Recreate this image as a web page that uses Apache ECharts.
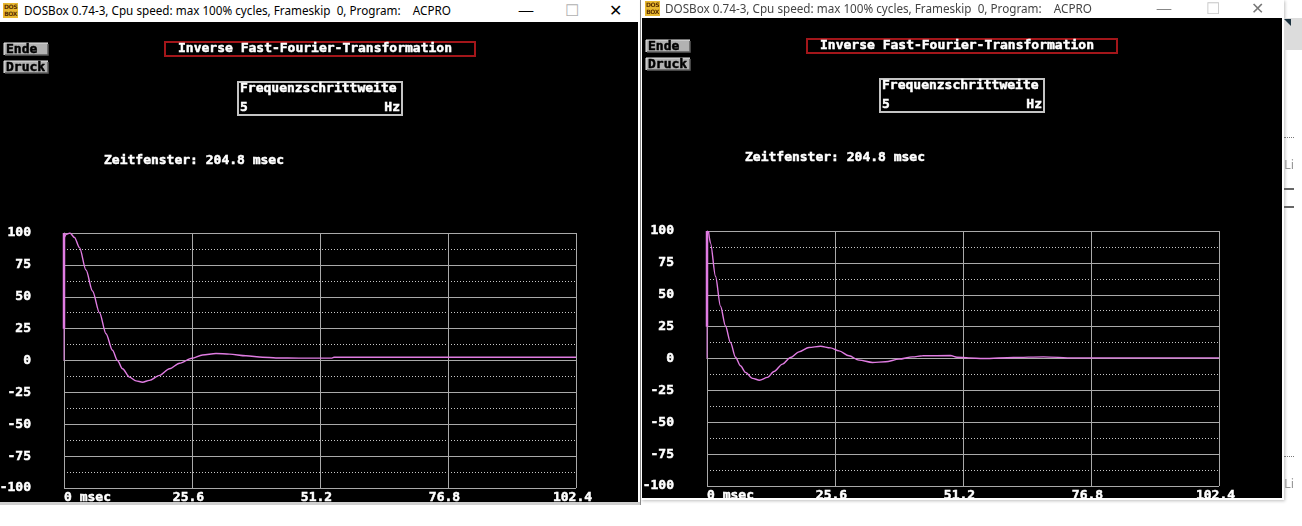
<!DOCTYPE html>
<html>
<head>
<meta charset="utf-8">
<title>Inverse Fast-Fourier-Transformation</title>
<script src="https://cdn.jsdelivr.net/npm/echarts@6/dist/echarts.min.js"></script>
<style>
  html, body { margin: 0; padding: 0; width: 1302px; height: 526px; background: #fff; overflow: hidden; }
  body { position: relative; font-family: "Noto Sans", "Open Sans", sans-serif; }
  .win { position: absolute; top: 0; background: #fff; }
  .bar { position: absolute; left: 0; top: 0; right: 0; white-space: pre; font-size: 11.7px; }
  .ico { position: absolute; width: 15px; height: 15px; background: #e8b830; color: #5a3000;
         font: bold 6px/7px "DejaVu Sans", sans-serif; text-align: center; letter-spacing: -0.5px; }
  .ttl { position: absolute; }
  .btn { position: absolute; font-size: 16px; font-weight: 300; line-height: 16px; }
  .scr { position: absolute; background: #000; }
  .side { position: absolute; }
</style>
</head>
<body>

<div class="win" style="left:0;width:641px;height:505px;border-right:1px solid #8c8c8c;box-sizing:border-box;">
  <div class="bar" style="height:22px;">
    <div class="ico" style="left:3px;top:3px;">DOS<br>BOX</div>
    <div class="ttl" style="left:24px;top:2px;color:#000;">DOSBox 0.74-3, Cpu speed: max 100% cycles, Frameskip  0, Program:    ACPRO</div>
    <div class="btn" style="left:518px;top:2px;color:#000;">&#8212;</div>
    <div class="btn" style="left:565px;top:2px;color:#b0b0b0;">&#9744;</div>
    <div class="btn" style="left:609px;top:2px;color:#000;">&#10005;</div>
  </div>
  <div id="chartLeft" class="scr" style="left:0;top:22px;width:638px;height:480px;"></div>
  <div style="position:absolute;left:0;top:502px;width:640px;height:3px;background:#cfcfcf;"></div>
</div>

<div class="win" style="left:641px;width:643px;height:500px;box-shadow:1px 1px 3px rgba(0,0,0,0.25);">
  <div class="bar" style="height:18px;">
    <div class="ico" style="left:4px;top:1px;">DOS<br>BOX</div>
    <div class="ttl" style="left:24px;top:0px;color:#444;">DOSBox 0.74-3, Cpu speed: max 100% cycles, Frameskip  0, Program:    ACPRO</div>
    <div class="btn" style="left:515px;top:0px;color:#777;">&#8212;</div>
    <div class="btn" style="left:565px;top:0px;color:#c8c8c8;">&#9744;</div>
    <div class="btn" style="left:610px;top:0px;color:#777;">&#10005;</div>
  </div>
  <div id="chartRight" class="scr" style="left:1px;top:18px;width:640px;height:480px;"></div>
</div>

<div class="side" style="left:1284px;top:18px;width:18px;height:32px;background:#dcdcdc;"></div>
<div class="side" style="left:1284px;top:19px;width:0;height:0;border-top:7px solid #1d3340;border-left:7px solid transparent;"></div>
<div class="side" style="left:1284px;top:137px;width:10px;border-top:1px dotted #777;"></div>
<div class="side" style="left:1284px;top:155px;color:#999;font-size:13px;">Li</div>
<div class="side" style="left:1284px;top:188px;width:10px;height:2px;background:#666;"></div>
<div class="side" style="left:1284px;top:206px;width:10px;height:2px;background:#666;"></div>
<div class="side" style="left:1284px;top:456px;width:10px;border-top:1px dotted #777;"></div>
<div class="side" style="left:1284px;top:474px;color:#999;font-size:13px;">Li</div>

<script>
// Achsen
var xTicks = [0, 25.6, 51.2, 76.8, 102.4];
var yTicks = [-100, -75, -50, -25, 0, 25, 50, 75, 100];

// linkes Fenster
var leftTimes  = [0, 0.5, 1.2, 2.1, 3.1, 4.4, 5.7, 7.1, 8.4, 9.7, 10.7, 11.7, 13.1, 14.4, 15.7, 17.1, 19.1, 21.1, 23.1, 25.6, 27.7, 30.4, 33.1, 36.4, 39.7, 42.4, 47, 53.6, 54, 102.4];
var leftValues = [96, 99, 100, 96.5, 88.5, 71, 54.5, 37.5, 21, 8, 0, -6.5, -13, -16, -17, -15.6, -11.7, -6.5, -2.2, 1.8, 4.3, 5.5, 5, 3.7, 2.6, 2, 1.9, 1.9, 2.5, 2.5];

// rechtes Fenster
var rightTimes  = [0.3, 0.7, 1.7, 2.7, 3.7, 4.7, 5.7, 6.7, 7.7, 9.1, 10.5, 12.1, 13.4, 15.1, 16.7, 18.4, 20.4, 22.7, 24.7, 26.4, 28.4, 30.4, 33.1, 35.7, 38.4, 41.1, 43.1, 48.7, 50, 52.3, 55.3, 61.3, 67.3, 73.3, 102.4];
var rightValues = [100, 90.5, 64.5, 41, 25.5, 12.5, 1, -5.7, -10.9, -15.6, -17, -14.8, -10.2, -4.4, 0.8, 5.2, 8.6, 9.6, 8.3, 6, 2.1, -1.3, -3.1, -2.6, -0.5, 1.3, 2.1, 2.3, 1, 0.5, 0, 0.8, 1.3, 0.5, 0.5];

// Anfangssprung bei t = 0
var spikeTimes  = [0, 0, 0];
var spikeValues = [0, 25, 100];

var DOS_FONT = '"DejaVu Sans Mono", "Liberation Mono", monospace';
var PINK = '#e07ce2';
var GRID = '#a9a9a9';

function pairs(xs, ys) {
    return xs.map(function(x, i) { return [x, ys[i]]; });
}

function dosText(x, y, text, align, color) {
    var c = color || '#fff';
    return {
        type: 'text', x: x, y: y, silent: true,
        style: {
            text: text, fill: c,
            font: 'bold 13px ' + DOS_FONT,
            stroke: c, lineWidth: 0.5,
            align: align || 'left', verticalAlign: 'middle',
            textAlign: align || 'left', textVerticalAlign: 'middle'
        }
    };
}

function dosButton(x, y, w, h, label) {
    return [
        { type: 'rect', shape: { x: x, y: y, width: w, height: h }, style: { fill: '#b2b2b2' } },
        { type: 'polyline', shape: { points: [[x, y + h], [x, y], [x + w, y]] }, style: { stroke: '#e4e4e4', lineWidth: 1, fill: null } },
        { type: 'polyline', shape: { points: [[x + 1, y + h], [x + w, y + h], [x + w, y + 1]] }, style: { stroke: '#5c5c5c', lineWidth: 1.5, fill: null } },
        dosText(x + 2, y + h / 2 + 0.5, label, 'left', '#000')
    ];
}

// d = kleiner Versatz des Bildschirmfotos
function buildOption(times, values, gridLeft, gridTop, d) {
    var g = [];
    g = g.concat(dosButton(4, 21 + d, 44, 12, 'Ende'));
    g = g.concat(dosButton(4, 39 + d, 44, 12, 'Druck'));
    g.push({ type: 'rect', shape: { x: 165, y: 20 + d, width: 310, height: 14 }, style: { fill: null, stroke: '#a3161a', lineWidth: 2 } });
    g.push(dosText(315, 27 + d, 'Inverse Fast-Fourier-Transformation', 'center'));
    g.push({ type: 'rect', shape: { x: 238, y: 60 + d, width: 164, height: 33 }, style: { fill: null, stroke: '#c4c4c4', lineWidth: 2 } });
    g.push(dosText(240, 67 + d, 'Frequenzschrittweite'));
    g.push(dosText(240, 86 + d, '5'));
    g.push(dosText(400, 86 + d, 'Hz', 'right'));
    g.push(dosText(104 - d, 139 + d, 'Zeitfenster: 204.8 msec'));

    var labelStyle = {
        color: '#fff', fontFamily: DOS_FONT, fontWeight: 'bold', fontSize: 13,
        textBorderColor: '#fff', textBorderWidth: 0.5
    };

    return {
        animation: false,
        backgroundColor: '#000',
        graphic: g,
        grid: {
            left: gridLeft, top: gridTop, width: 512, height: 255,
            containLabel: false, outerBoundsMode: 'none'
        },
        xAxis: {
            type: 'value',
            min: xTicks[0], max: xTicks[xTicks.length - 1], interval: xTicks[1] - xTicks[0],
            axisLine: { show: true, lineStyle: { color: GRID, width: 1 } },
            axisTick: { show: false },
            splitLine: { show: true, lineStyle: { color: GRID, width: 1 } },
            axisLabel: Object.assign({
                show: true, showMinLabel: true, showMaxLabel: true,
                alignMinLabel: 'left',
                margin: 3, padding: [0, 7, 0, 0],
                formatter: function(v) { return v === 0 ? '0 msec' : v.toFixed(1); }
            }, labelStyle)
        },
        yAxis: {
            type: 'value',
            min: yTicks[0], max: yTicks[yTicks.length - 1], interval: yTicks[1] - yTicks[0],
            axisLine: { show: true, lineStyle: { color: GRID, width: 1 } },
            axisTick: { show: false },
            minorTick: { show: false, splitNumber: 2 },
            splitLine: { show: true, lineStyle: { color: GRID, width: 1 } },
            minorSplitLine: { show: true, lineStyle: { color: '#c8c8c8', width: 1, type: [1, 2] } },
            axisLabel: Object.assign({
                show: true, showMinLabel: true, showMaxLabel: true,
                margin: 33
            }, labelStyle)
        },
        series: [
            {
                type: 'line', data: pairs(spikeTimes, spikeValues),
                showSymbol: false, silent: true,
                lineStyle: { color: PINK, width: 1 }
            },
            {
                type: 'line', data: pairs(spikeTimes.slice(1), spikeValues.slice(1)),
                showSymbol: false, silent: true,
                lineStyle: { color: PINK, width: 2.5 }
            },
            {
                type: 'line', data: pairs(times, values),
                showSymbol: false, silent: true, smooth: 0.3, smoothMonotone: 'x',
                lineStyle: { color: PINK, width: 1.4 }
            }
        ]
    };
}

var chartLeft = echarts.init(document.getElementById('chartLeft'));
chartLeft.setOption(buildOption(leftTimes, leftValues, 64, 211, 0));

var chartRight = echarts.init(document.getElementById('chartRight'));
chartRight.setOption(buildOption(rightTimes, rightValues, 65, 213, 1));
</script>
</body>
</html>
